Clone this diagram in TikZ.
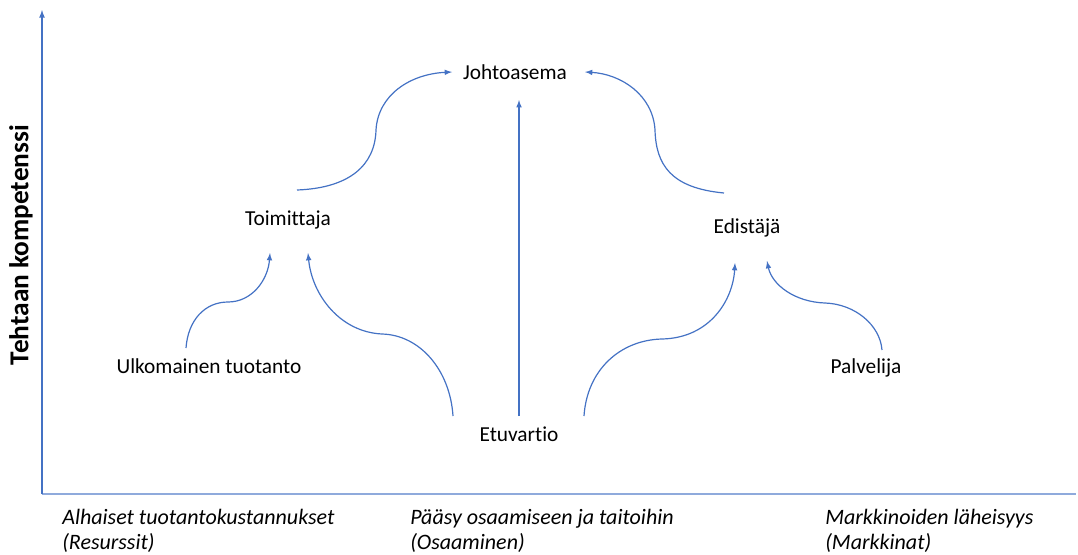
\documentclass[tikz,border=0pt]{standalone}
\usepackage{fontspec}
\setmainfont{Carlito}[Ligatures=NoCommon]
\usetikzlibrary{arrows}

\definecolor{lineblue}{HTML}{4472C4}
\definecolor{axisblue}{HTML}{8FAADC}

\tikzset{
    place/.style={font=\fontsize{16}{19}\selectfont, inner sep=1pt},
    driver/.style={font=\fontsize{16.5}{19}\selectfont\itshape, align=left, anchor=west, inner sep=0pt},
    move/.style={draw=lineblue, line width=0.9pt, -latex}
}

\begin{document}
\begin{tikzpicture}[x=0.75pt,y=-0.75pt]
            \useasboundingbox (0,0) rectangle (1078,554);
            % axes
            \coordinate (origin) at (42,494);
            \coordinate (ytop) at (42,10);
            \coordinate (xend) at (1076,494);
            \draw [axisblue, line width=1.5pt] (origin)--(xend);
            \draw [lineblue, line width=1pt, -latex] (origin)--(ytop);
            \node (ylab) [rotate=90, font=\fontsize{20.5}{24}\selectfont\bfseries] at (21,245) {Tehtaan kompetenssi};

            % places
            \node (johto) [place] at (515,72) {Johtoasema};
            \node (toim) [place] at (288,220) {Toimittaja};
            \node (edis) [place] at (747,228) {Edistäjä};
            \node (ulko) [place] at (209,366) {Ulkomainen tuotanto};
            \node (palv) [place] at (866,368) {Palvelija};
            \node (etu) [place] at (519,434) {Etuvartio};

            % drivers below the axis
            \node (res) [driver] at (62,531) {Alhaiset tuotantokustannukset\\(Resurssit)};
            \node (osa) [driver] at (410,531) {Pääsy osaamiseen ja taitoihin\\(Osaaminen)};
            \node (mar) [driver] at (825,531) {Markkinoiden läheisyys\\(Markkinat)};

            % moves
            \coordinate (t1) at (297,190);
            \coordinate (j1) at (452,72);
            \coordinate (e1) at (724,193);
            \coordinate (j2) at (585,72);
            \coordinate (u1) at (186,348);
            \coordinate (t2) at (270,253);
            \coordinate (v1) at (453,416);
            \coordinate (t3) at (308,253);
            \coordinate (v2) at (519,416);
            \coordinate (j3) at (519,100);
            \coordinate (v3) at (584,416);
            \coordinate (e2) at (735,263);
            \coordinate (p1) at (882,350);
            \coordinate (e3) at (767,261);

            \draw [move] (t1) .. controls (350,188) and (375,165) .. (376,130)
                .. controls (378,95) and (410,74) .. (j1);
            \draw [move] (e1) .. controls (671,188) and (656,165) .. (655,130)
                .. controls (653,95) and (621,74) .. (j2);
            \draw [move] (v2)--(j3);
            \draw [move] (u1) .. controls (188,320) and (205,302) .. (228,302)
                .. controls (252,302) and (268,280) .. (t2);
            \draw [move] (v1) .. controls (450,370) and (420,335) .. (382,334)
                .. controls (340,332) and (312,295) .. (t3);
            \draw [move] (v3) .. controls (587,370) and (620,340) .. (662,339)
                .. controls (710,338) and (733,300) .. (e2);
            \draw [move] (p1) .. controls (880,325) and (855,304) .. (825,303)
                .. controls (795,302) and (772,285) .. (e3);
        \end{tikzpicture}
\end{document}
